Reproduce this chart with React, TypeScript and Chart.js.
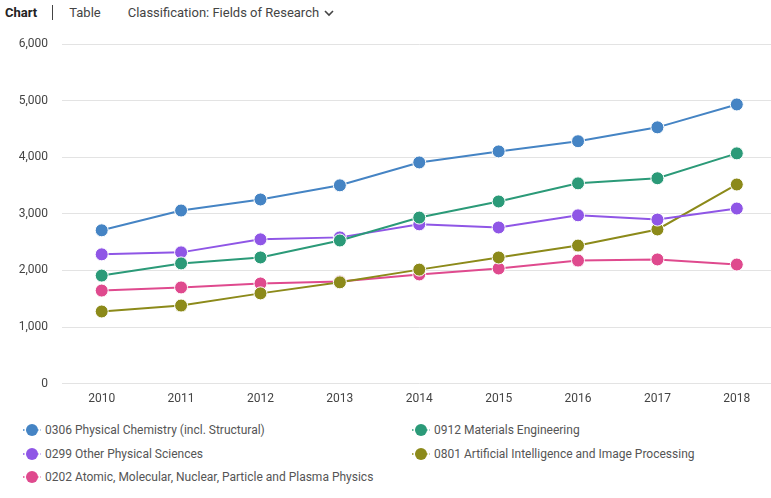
import React, { useEffect, useRef } from "react";
import { Chart, registerables } from "chart.js";

Chart.register(...registerables);

const years = ["2010", "2011", "2012", "2013", "2014", "2015", "2016", "2017", "2018"];
const yTicks = [0, 1000, 2000, 3000, 4000, 5000, 6000];

const physChem = [2710, 3060, 3255, 3505, 3910, 4105, 4285, 4530, 4935];
const materialsEng = [1910, 2125, 2230, 2530, 2935, 3220, 3540, 3630, 4070];
const otherPhys = [2285, 2320, 2550, 2585, 2815, 2760, 2975, 2900, 3095];
const aiImage = [1275, 1380, 1595, 1790, 2015, 2230, 2440, 2725, 3520];
const atomicPhys = [1645, 1700, 1770, 1805, 1930, 2035, 2175, 2195, 2105];

const seriesNames = [
  "0306 Physical Chemistry (incl. Structural)",
  "0912 Materials Engineering",
  "0299 Other Physical Sciences",
  "0801 Artificial Intelligence and Image Processing",
  "0202 Atomic, Molecular, Nuclear, Particle and Plasma Physics",
];
const seriesData = [physChem, materialsEng, otherPhys, aiImage, atomicPhys];
const seriesColors = ["#4584c4", "#2b9a78", "#8f56e6", "#8c8a1a", "#df4a8e"];

const FONT = "Roboto, 'Noto Sans', sans-serif";

function LegendItem({ name, color, left, top }: { name: string; color: string; left: number; top: number }) {
  return (
    <div style={{ position: "absolute", left, top, display: "flex", alignItems: "center", height: 16 }}>
      <svg width={18} height={14} style={{ marginRight: 4 }}>
        <line x1={0} y1={7} x2={18} y2={7} stroke={color} strokeWidth={1.5} strokeDasharray="1.5 2" />
        <circle cx={9} cy={7} r={6} fill={color} />
      </svg>
      <span style={{ fontFamily: FONT, fontSize: 12, color: "#555", whiteSpace: "nowrap" }}>{name}</span>
    </div>
  );
}

export default function App() {
  const canvasRef = useRef<HTMLCanvasElement | null>(null);

  useEffect(() => {
    if (!canvasRef.current) return;
    const chart = new Chart(canvasRef.current, {
      type: "line",
      data: {
        labels: years,
        datasets: seriesNames.map((name, i) => ({
          label: name,
          data: seriesData[i],
          borderColor: seriesColors[i],
          backgroundColor: seriesColors[i],
          borderWidth: 2,
          pointRadius: 6.5,
          pointBorderColor: "#ffffff",
          pointBorderWidth: 1,
          pointBackgroundColor: seriesColors[i],
          tension: 0,
        })),
      },
      options: {
        animation: false,
        responsive: false,
        maintainAspectRatio: false,
        layout: { padding: { top: 0, right: 0, bottom: 0, left: 0 } },
        plugins: { legend: { display: false }, tooltip: { enabled: false } },
        scales: {
          x: {
            offset: true,
            grid: { display: false },
            border: { display: false },
            ticks: { color: "#444", font: { family: FONT, size: 12 }, padding: 0 },
          },
          y: {
            min: 0,
            max: 6000,
            afterFit: (scale: any) => {
              scale.width = 62;
            },
            afterBuildTicks: (scale: any) => {
              scale.ticks = yTicks.map((v) => ({ value: v }));
            },
            grid: { color: "#e3e3e3", drawTicks: false },
            border: { display: false },
            ticks: {
              color: "#444",
              font: { family: FONT, size: 12 },
              padding: 14,
              callback: (v: any) => Number(v).toLocaleString("en-US"),
            },
          },
        },
      },
    });
    return () => chart.destroy();
  }, []);

  return (
    <div style={{ position: "fixed", left: 0, top: 0, width: 771, height: 498, overflow: "hidden", background: "#fff" }}>
      <div style={{ position: "absolute", top: 5, left: 5, fontFamily: FONT, fontSize: 13, display: "flex", alignItems: "center", whiteSpace: "nowrap" }}>
        <span style={{ fontWeight: 700, color: "#222" }}>Chart</span>
        <span style={{ display: "inline-block", width: 1, height: 15, background: "#444", marginLeft: 15, marginRight: 16 }} />
        <span style={{ color: "#444" }}>Table</span>
        <span style={{ color: "#444", marginLeft: 27 }}>Classification: Fields of Research</span>
        <svg width={12} height={10} style={{ marginLeft: 4 }}>
          <polyline points="2,3 6,7 10,3" fill="none" stroke="#444" strokeWidth={1.6} />
        </svg>
      </div>
      <div style={{ position: "absolute", left: 0, top: 23, width: 784, height: 383 }}>
        <canvas ref={canvasRef} width={784} height={383} style={{ width: 784, height: 383 }} />
      </div>
      <LegendItem name={seriesNames[0]} color={seriesColors[0]} left={23} top={422} />
      <LegendItem name={seriesNames[1]} color={seriesColors[1]} left={412} top={422} />
      <LegendItem name={seriesNames[2]} color={seriesColors[2]} left={23} top={446} />
      <LegendItem name={seriesNames[3]} color={seriesColors[3]} left={412} top={446} />
      <LegendItem name={seriesNames[4]} color={seriesColors[4]} left={23} top={469} />
    </div>
  );
}
